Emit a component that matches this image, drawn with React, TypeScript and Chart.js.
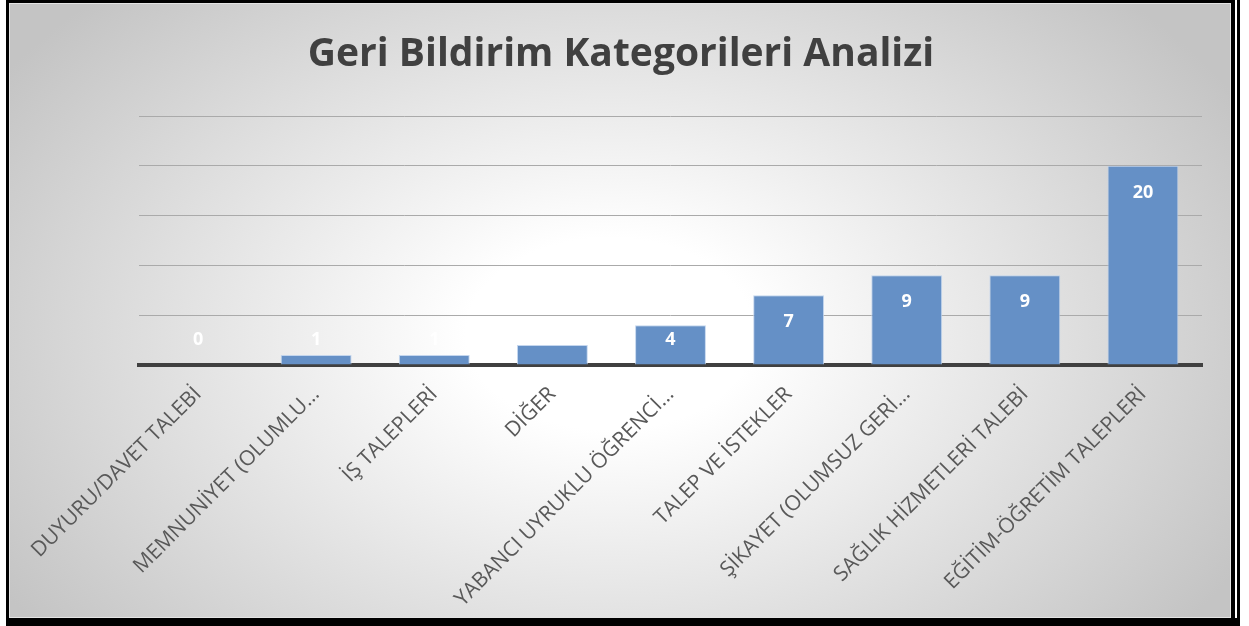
import React, { useEffect, useRef } from "react";
import { Chart, registerables } from "chart.js";

Chart.register(...registerables);

const titleText = "Geri Bildirim Kategorileri Analizi";
const categories = [
  "DUYURU/DAVET TALEBİ",
  "MEMNUNİYET (OLUMLU…",
  "İŞ TALEPLERİ",
  "DİĞER",
  "YABANCI UYRUKLU ÖĞRENCİ…",
  "TALEP VE İSTEKLER",
  "ŞİKAYET (OLUMSUZ GERİ…",
  "SAĞLIK HİZMETLERİ TALEBİ",
  "EĞİTİM-ÖĞRETİM TALEPLERİ",
];
const values = [0, 1, 1, 2, 4, 7, 9, 9, 20];
const yMin = 0;
const yMax = 25;
const yStep = 5;

const FONT = "'Open Sans', Lato, sans-serif";

const labelPlugin = {
  id: "barValueLabels",
  afterDatasetsDraw(chart: any) {
    const ctx = chart.ctx;
    const meta = chart.getDatasetMeta(0);
    const base = chart.scales.y.getPixelForValue(0);
    ctx.save();
    ctx.font = `bold 18px ${FONT}`;
    ctx.fillStyle = "#ffffff";
    ctx.textAlign = "center";
    ctx.textBaseline = "middle";
    meta.data.forEach((bar: any, i: number) => {
      const y = Math.min(bar.y + 27, base - 25);
      ctx.fillText(String(values[i]), bar.x, y);
    });
    ctx.restore();
  },
};

const titlePlugin = {
  id: "pageTitle",
  afterDraw(chart: any) {
    const ctx = chart.ctx;
    ctx.save();
    ctx.font = `bold 39px ${FONT}`;
    ctx.fillStyle = "#404040";
    ctx.textAlign = "center";
    ctx.textBaseline = "middle";
    ctx.fillText(titleText, 621, 55);
    ctx.restore();
  },
};

export default function App() {
  const ref = useRef<HTMLCanvasElement | null>(null);

  useEffect(() => {
    const canvas = ref.current;
    if (!canvas) return;
    const chart = new Chart(canvas, {
      type: "bar",
      data: {
        labels: categories,
        datasets: [
          {
            data: values,
            backgroundColor: "#6590c6",
            borderColor: "rgba(190,210,236,0.9)",
            borderWidth: 1,
            barPercentage: 0.6,
            categoryPercentage: 1,
          },
        ],
      },
      options: {
        animation: false,
        responsive: false,
        devicePixelRatio: 1,
        layout: { padding: { left: 139, right: 47, top: 116, bottom: 0 } },
        plugins: {
          legend: { display: false },
          tooltip: { enabled: false },
          title: { display: false },
        },
        scales: {
          x: {
            grid: { display: false, drawTicks: false },
            border: { display: true, color: "#404040", width: 4 },
            ticks: {
              color: "#595959",
              font: { family: FONT, size: 21 },
              minRotation: 45,
              maxRotation: 45,
              autoSkip: false,
              padding: 17,
            },
            afterFit: (scale: any) => {
              scale.height = 261;
            },
          },
          y: {
            min: yMin,
            max: yMax,
            ticks: { display: false, stepSize: yStep },
            grid: { color: "#aaaaaa", lineWidth: 1, drawTicks: false },
            border: { display: false },
            afterFit: (scale: any) => {
              scale.width = 0;
            },
          },
        },
      },
      plugins: [labelPlugin, titlePlugin],
    });
    return () => chart.destroy();
  }, []);

  return (
    <div style={{ position: "fixed", left: 0, top: 0, width: 1249, height: 626, background: "#ffffff", overflow: "hidden" }}>
      <div style={{ position: "absolute", left: 6, top: 0, width: 1234, height: 626, background: "#000000" }} />
      <div style={{ position: "absolute", left: 1235, top: 0, width: 2, height: 618, background: "#ffffff" }} />
      <div
        style={{
          position: "absolute",
          left: 9,
          top: 3,
          width: 1222,
          height: 615,
          boxSizing: "border-box",
          border: "1px solid #e4e4e4",
          background:
            "radial-gradient(ellipse 720px 480px at 600px 330px, #ffffff 0%, #ffffff 20%, #c4c4c4 100%)",
        }}
      />
      <canvas ref={ref} width={1249} height={626} style={{ position: "absolute", left: 0, top: 0, width: 1249, height: 626 }} />
    </div>
  );
}
